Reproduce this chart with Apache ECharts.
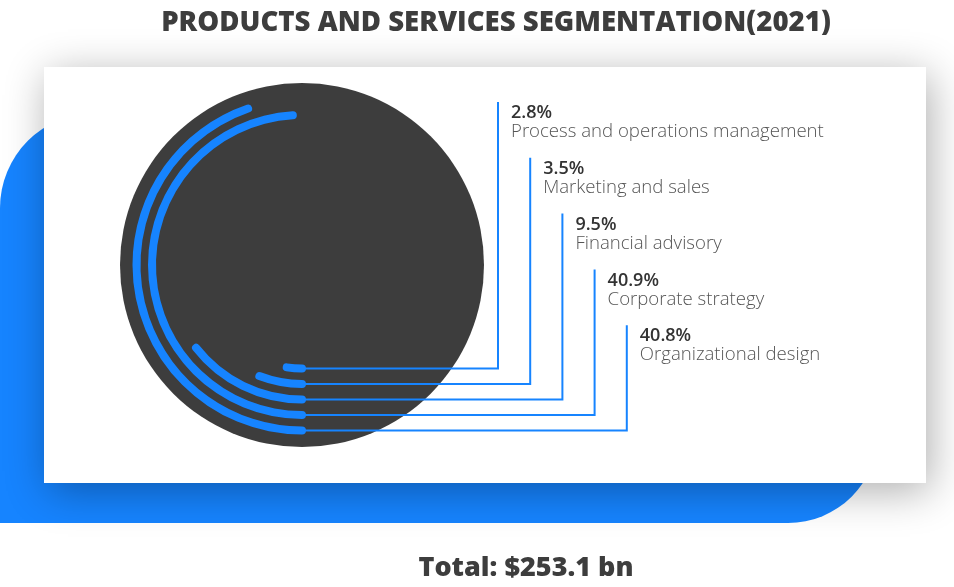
<!DOCTYPE html>
<html>
<head>
<meta charset="utf-8">
<script src="https://cdn.jsdelivr.net/npm/echarts@6/dist/echarts.min.js"></script>
<style>
html,body{margin:0;padding:0;background:#fff;}
#chart{width:954px;height:587px;}
</style>
</head>
<body>
<div id="chart"></div>
<script>
// ---- data (inner ring -> outer ring) ----
const categories = ['Process and operations management', 'Marketing and sales', 'Financial advisory', 'Corporate strategy', 'Organizational design'];
const shareLabels = ['2.8%', '3.5%', '9.5%', '40.9%', '40.8%'];
const shares = [2.8, 3.5, 9.5, 40.9, 40.8];
const arcSweepDeg = [8.5, 21, 52, 176.5, 161]; // arc sweep as drawn in the picture
const chartTitle = 'PRODUCTS AND SERVICES SEGMENTATION(2021)';
const totalText = 'Total: $253.1 bn';

const BLUE = '#1684ff';
const DARK = '#3d3d3d';
const chart = echarts.init(document.getElementById('chart'), null, {renderer: 'canvas'});

const baseGraphics = [
  {type: 'rect', z: 0, shape: {x: 0, y: 113, width: 878, height: 410, r: [95, 0, 90, 0]}, style: {fill: BLUE}},
  {type: 'rect', z: 1, shape: {x: 44, y: 67, width: 882, height: 416}, style: {fill: '#ffffff', shadowBlur: 40, shadowColor: 'rgba(0,0,0,0.32)', shadowOffsetX: 4, shadowOffsetY: 8}},
  {type: 'circle', z: 1, shape: {cx: 302, cy: 265, r: 182}, style: {fill: DARK}},
  {type: 'text', z: 5, style: {text: chartTitle, x: 496, y: 23, textAlign: 'center', textVerticalAlign: 'middle', font: '800 27.6px "Open Sans"', fill: DARK}},
  {type: 'text', z: 5, style: {text: totalText, x: 526, y: 568, textAlign: 'center', textVerticalAlign: 'middle', font: '800 27px "Open Sans"', fill: DARK}}
];

const option = {
  animation: false,
  polar: {center: [302, 265], radius: [95.75, 173.25]},
  angleAxis: {type: 'value', min: 0, max: 360, startAngle: -90, clockwise: true, show: false},
  radiusAxis: {type: 'category', data: categories, show: false},
  series: [{
    type: 'bar',
    coordinateSystem: 'polar',
    data: arcSweepDeg,
    barWidth: 8,
    roundCap: true,
    z: 3,
    itemStyle: {color: BLUE},
    silent: true
  }],
  graphic: {elements: baseGraphics}
};
chart.setOption(option);

// connectors + labels, anchored to the arc starts via the polar coordinate system
const extra = [];
categories.forEach(function (name, i) {
  const p = chart.convertToPixel({polarIndex: 0}, [name, 0]);
  const vx = 498 + i * 32.2;
  const top = 102 + i * 55.8;
  extra.push({type: 'polyline', z: 4, shape: {points: [[p[0], p[1]], [vx, p[1]], [vx, top]]}, style: {stroke: BLUE, lineWidth: 2, fill: null}});
  extra.push({type: 'text', z: 5, style: {text: shareLabels[i], x: vx + 13, y: top + 11, textAlign: 'left', textVerticalAlign: 'middle', font: '600 18px "Open Sans"', fill: '#333333'}});
  extra.push({type: 'text', z: 5, style: {text: name, x: vx + 13, y: top + 30, textAlign: 'left', textVerticalAlign: 'middle', font: '300 18.6px "Open Sans"', fill: '#555555'}});
});
option.graphic = {elements: baseGraphics.concat(extra)};
chart.setOption(option, true);
</script>
</body>
</html>
